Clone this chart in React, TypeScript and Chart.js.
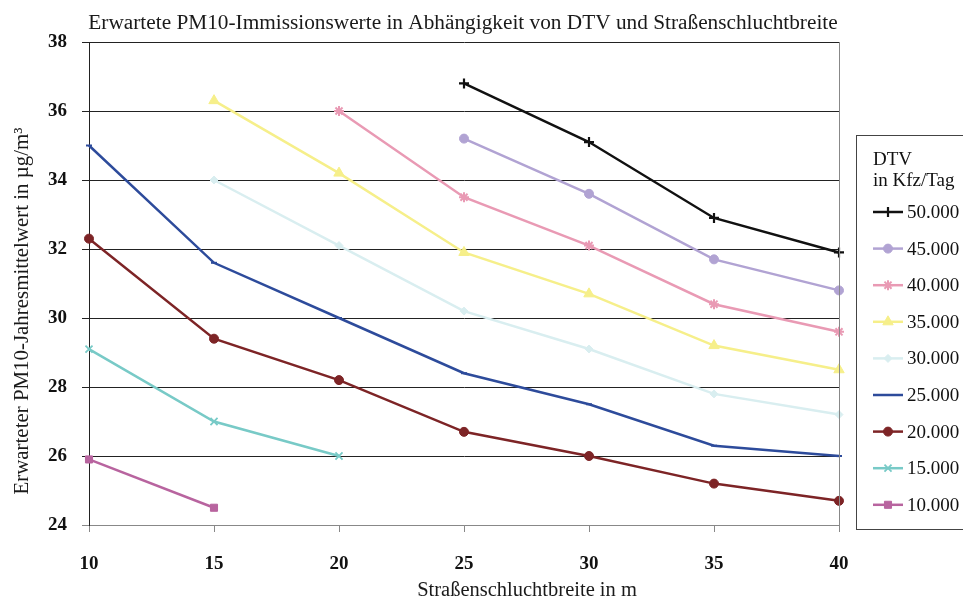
import React, { useEffect, useRef } from 'react';
import { Chart, registerables } from 'chart.js';
import { drawPoint } from 'chart.js/helpers';

Chart.register(...registerables);

const TITLE = 'Erwartete PM10-Immissionswerte in Abhängigkeit von DTV und Straßenschluchtbreite';
const X_TITLE = 'Straßenschluchtbreite in m';
const Y_TITLE = 'Erwarteter PM10-Jahresmittelwert in µg/m³';
const LEGEND_TITLE = ['DTV', 'in Kfz/Tag'];

const widths = ['10', '15', '20', '25', '30', '35', '40'];
const yMin = 24;
const yMax = 38;
const yStep = 2;

const dtv50000 = [null, null, null, 36.8, 35.1, 32.9, 31.9];
const dtv45000 = [null, null, null, 35.2, 33.6, 31.7, 30.8];
const dtv40000 = [null, null, 36.0, 33.5, 32.1, 30.4, 29.6];
const dtv35000 = [null, 36.3, 34.2, 31.9, 30.7, 29.2, 28.5];
const dtv30000 = [null, 34.0, 32.1, 30.2, 29.1, 27.8, 27.2];
const dtv25000 = [35.0, 31.6, 30.0, 28.4, 27.5, 26.3, 26.0];
const dtv20000 = [32.3, 29.4, 28.2, 26.7, 26.0, 25.2, 24.7];
const dtv15000 = [29.1, 27.0, 26.0, null, null, null, null];
const dtv10000 = [25.9, 24.5, null, null, null, null, null];

const seriesLabels = ['50.000', '45.000', '40.000', '35.000', '30.000', '25.000', '20.000', '15.000', '10.000'];
const seriesData = [dtv50000, dtv45000, dtv40000, dtv35000, dtv30000, dtv25000, dtv20000, dtv15000, dtv10000];
const seriesColors = ['#111111', '#b1a3d3', '#e99ab4', '#f6ef8a', '#d9eef0', '#2d4b9b', '#7d2426', '#78cac7', '#b8649f'];
const seriesStyles = ['cross', 'circle', 'star', 'triangle', 'rectRot', 'line', 'circle', 'crossRot', 'rect'];
const seriesRadius = [5, 4.5, 5, 6, 4, 3, 4.5, 5, 5];
const seriesPointBorder = [2.2, 1, 2, 1, 1, 2, 1, 1.8, 1];

const FONT = '"Liberation Serif", "Times New Roman", serif';

const overlayPlugin = {
  id: 'overlay',
  afterDraw(chart: any) {
    const ctx = chart.ctx as CanvasRenderingContext2D;
    const a = chart.chartArea;
    ctx.save();
    // right frame line
    ctx.strokeStyle = '#888888';
    ctx.lineWidth = 1;
    ctx.beginPath();
    ctx.moveTo(Math.round(a.right) + 0.5, a.top);
    ctx.lineTo(Math.round(a.right) + 0.5, a.bottom + 7);
    ctx.stroke();

    ctx.fillStyle = '#1a1a1a';
    ctx.textBaseline = 'alphabetic';
    ctx.textAlign = 'center';
    ctx.font = '21.3px ' + FONT;
    ctx.fillText(TITLE, 463, 29);
    ctx.font = '20.5px ' + FONT;
    ctx.fillText(X_TITLE, 527, 596);

    ctx.save();
    ctx.translate(28, 311);
    ctx.rotate(-Math.PI / 2);
    ctx.font = '20.9px ' + FONT;
    ctx.fillText(Y_TITLE, 0, 0);
    ctx.restore();

    // legend box
    ctx.strokeStyle = '#444444';
    ctx.lineWidth = 1;
    ctx.strokeRect(856.5, 135.5, 200, 394);
    ctx.textAlign = 'left';
    ctx.fillStyle = '#111111';
    ctx.font = '19px ' + FONT;
    ctx.fillText(LEGEND_TITLE[0], 873, 165);
    ctx.fillText(LEGEND_TITLE[1], 873, 186);

    chart.data.datasets.forEach((ds: any, i: number) => {
      const cy = 212 + i * 36.6;
      ctx.strokeStyle = ds.borderColor;
      ctx.lineWidth = ds.borderWidth;
      ctx.beginPath();
      ctx.moveTo(873, cy);
      ctx.lineTo(903, cy);
      ctx.stroke();
      ctx.fillStyle = ds.pointBackgroundColor;
      ctx.strokeStyle = ds.pointBorderColor;
      ctx.lineWidth = ds.pointBorderWidth;
      drawPoint(ctx, { pointStyle: ds.pointStyle, radius: ds.pointRadius, rotation: 0, borderWidth: ds.pointBorderWidth }, 888, cy);
      ctx.fillStyle = '#111111';
      ctx.textBaseline = 'middle';
      ctx.fillText(ds.label, 907, cy + 1);
    });
    ctx.restore();
  },
};

export default function App() {
  const ref = useRef<HTMLCanvasElement | null>(null);

  useEffect(() => {
    if (!ref.current) return;
    const datasets = seriesLabels.map((label, i) => ({
      label,
      data: seriesData[i],
      borderColor: seriesColors[i],
      backgroundColor: seriesColors[i],
      pointBackgroundColor: seriesColors[i],
      pointBorderColor: seriesColors[i],
      borderWidth: 2.5,
      pointStyle: seriesStyles[i],
      pointRadius: seriesRadius[i],
      pointBorderWidth: seriesPointBorder[i],
      tension: 0,
      spanGaps: false,
    }));
    const chart = new Chart(ref.current, {
      type: 'line',
      data: { labels: widths, datasets },
      options: {
        animation: false,
        responsive: false,
        devicePixelRatio: 1,
        layout: { padding: { top: 42, right: 124, bottom: 0, left: 0 } },
        plugins: {
          legend: { display: false },
          title: { display: false },
          tooltip: { enabled: false },
        },
        scales: {
          x: {
            type: 'category',
            offset: false,
            afterFit: (s: any) => { s.height = 74; },
            grid: { drawOnChartArea: false, drawTicks: true, tickLength: 7, color: '#888888' },
            border: { color: '#888888', width: 1 },
            ticks: { color: '#111111', font: { family: FONT, size: 19, weight: 'bold' }, padding: 21, maxRotation: 0 },
          },
          y: {
            min: yMin,
            max: yMax,
            afterFit: (s: any) => { s.width = 89; },
            grid: {
              color: (c: any) => (c.tick && c.tick.value === yMin ? '#888888' : '#222222'),
              tickLength: 7,
              lineWidth: 1,
            },
            border: { color: '#222222', width: 1 },
            ticks: { stepSize: yStep, color: '#111111', font: { family: FONT, size: 19, weight: 'bold' }, padding: 15 },
          },
        },
      },
      plugins: [overlayPlugin],
    } as any);
    return () => chart.destroy();
  }, []);

  return (
    <div style={{ position: 'fixed', left: 0, top: 0, width: 963, height: 599, overflow: 'hidden', background: '#fff' }}>
      <canvas ref={ref} width={963} height={599} style={{ display: 'block', width: 963, height: 599 }} />
    </div>
  );
}
